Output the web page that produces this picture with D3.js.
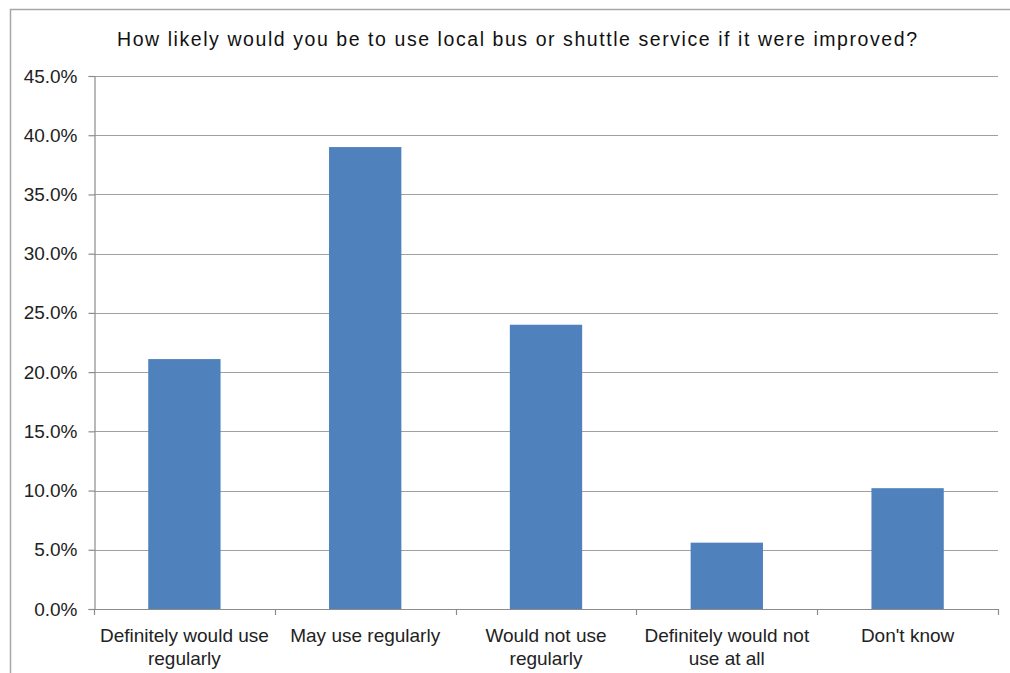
<!DOCTYPE html>
<html><head><meta charset="utf-8">
<script src="https://cdn.jsdelivr.net/npm/d3@7"></script>
<style>body{margin:0;background:#fff}svg{display:block}</style>
</head><body>
<script>
const title = "How likely would you be to use local bus or shuttle service if it were improved?";
const categories = [["Definitely would use","regularly"],["May use regularly"],["Would not use","regularly"],["Definitely would not","use at all"],["Don't know"]];
const values = [21.1, 39.0, 24.0, 5.6, 10.2];
const yTicks = [0,5,10,15,20,25,30,35,40,45];

const W=1010,H=673;
const m={left:94,right:998,top:76,bottom:609};
const svg=d3.select("body").append("svg").attr("width",W).attr("height",H);
const font="'Liberation Sans', Arial, sans-serif";
svg.append("rect").attr("x",10.5).attr("y",9.5).attr("width",1010).attr("height",700)
  .attr("fill","#fff").attr("stroke","#a6a6a6").attr("stroke-width",1.5);

const x=d3.scaleBand().domain(d3.range(categories.length)).range([m.left,m.right]).paddingInner(0.6).paddingOuter(0.3);
const y=d3.scaleLinear().domain([0,45]).range([m.bottom,m.top]);

// gridlines
svg.append("g").selectAll("line").data(yTicks.filter(d=>d>0)).join("line")
  .attr("x1",m.left).attr("x2",m.right).attr("y1",d=>Math.round(y(d))+0.5).attr("y2",d=>Math.round(y(d))+0.5)
  .attr("stroke","#a0a0a0").attr("stroke-width",1.2);

// bars
svg.append("g").selectAll("rect").data(values).join("rect")
  .attr("x",(d,i)=>x(i)).attr("width",x.bandwidth())
  .attr("y",d=>y(d)).attr("height",d=>y(0)-y(d)).attr("fill","#4f81bd");

// y axis
const ya=svg.append("g").attr("transform",`translate(${m.left+0.5},0)`)
  .call(d3.axisLeft(y).tickValues(yTicks).tickFormat(d=>d.toFixed(1)+"%").tickSize(6).tickPadding(11));
ya.selectAll("path,line").attr("stroke","#8c8c8c").attr("stroke-width",1.2);
ya.selectAll("text").attr("font-family",font).attr("font-size",19).attr("fill","#222");

// x axis
const xb=d3.scaleLinear().domain([0,categories.length]).range([m.left,m.right]);
const xa=svg.append("g");
xa.append("line").attr("x1",m.left).attr("x2",m.right).attr("y1",m.bottom+0.5).attr("y2",m.bottom+0.5).attr("stroke","#8c8c8c").attr("stroke-width",1.2);
xa.selectAll("line.t").data(d3.range(categories.length+1)).join("line").attr("class","t")
  .attr("x1",d=>Math.round(xb(d))+0.5).attr("x2",d=>Math.round(xb(d))+0.5).attr("y1",m.bottom).attr("y2",m.bottom+6)
  .attr("stroke","#8c8c8c").attr("stroke-width",1.2);
const lab=xa.selectAll("text").data(categories).join("text")
  .attr("x",(d,i)=>x(i)+x.bandwidth()/2).attr("y",m.bottom+33)
  .attr("text-anchor","middle").attr("font-family",font).attr("font-size",19).attr("fill","#222");
lab.selectAll("tspan").data(d=>d).join("tspan").attr("x",function(){return this.parentNode.getAttribute("x");})
  .attr("dy",(d,i)=>i===0?0:23).text(d=>d);

// title
svg.append("text").attr("x",517).attr("y",46).attr("text-anchor","middle")
  .attr("font-family",font).attr("font-size",19.5).attr("fill","#111")
  .attr("textLength",800).attr("lengthAdjust","spacing").text(title);
</script>
</body></html>
